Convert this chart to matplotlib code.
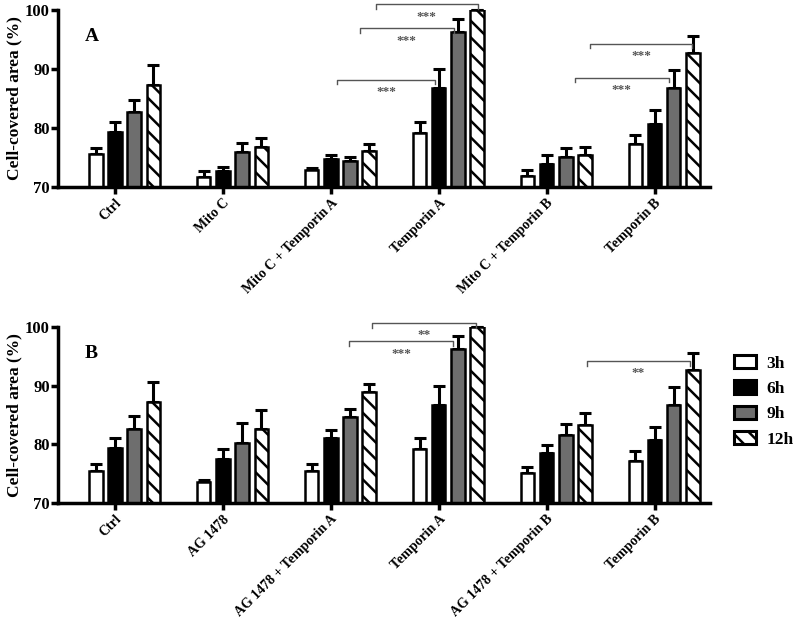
import numpy as np
import matplotlib
matplotlib.use("Agg")
import matplotlib.pyplot as plt
from matplotlib.patches import Patch

plt.rcParams['font.family'] = ['Liberation Serif', 'DejaVu Serif']
plt.rcParams['font.weight'] = 'bold'
plt.rcParams['hatch.linewidth'] = 1.8

times = ['3h', '6h', '9h', '12h']

groups_a = ['Ctrl', 'Mito C', 'Mito C + Temporin A', 'Temporin A',
            'Mito C + Temporin B', 'Temporin B']
means_a = [
    [75.5, 79.3, 82.6, 87.3],
    [71.7, 72.6, 75.9, 76.7],
    [72.9, 74.7, 74.4, 76.1],
    [79.1, 86.7, 96.2, 100.0],
    [71.8, 73.8, 75.0, 75.4],
    [77.3, 80.7, 86.7, 92.7],
]
sem_a = [
    [1.1, 1.7, 2.2, 3.4],
    [0.9, 0.8, 1.6, 1.6],
    [0.2, 0.7, 0.6, 1.2],
    [1.9, 3.3, 2.3, 0.0],
    [1.1, 1.5, 1.6, 1.3],
    [1.4, 2.3, 3.1, 2.9],
]
# (x start, x end, y, label)
brackets_a = [
    (2.06, 2.97, 88.2, '***'),
    (2.27, 3.14, 96.9, '***'),
    (2.42, 3.36, 101.0, '***'),
    (4.26, 5.13, 88.5, '***'),
    (4.40, 5.35, 94.3, '***'),
]

groups_b = ['Ctrl', 'AG 1478', 'AG 1478 + Temporin A', 'Temporin A',
            'AG 1478 + Temporin B', 'Temporin B']
means_b = [
    [75.5, 79.3, 82.6, 87.3],
    [73.6, 77.5, 80.2, 82.6],
    [75.5, 81.1, 84.6, 89.0],
    [79.2, 86.7, 96.2, 100.0],
    [75.1, 78.5, 81.6, 83.3],
    [77.2, 80.8, 86.7, 92.7],
]
sem_b = [
    [1.1, 1.7, 2.2, 3.4],
    [0.3, 1.7, 3.4, 3.3],
    [1.1, 1.3, 1.4, 1.3],
    [1.9, 3.3, 2.2, 0.0],
    [1.1, 1.4, 1.9, 2.1],
    [1.6, 2.1, 3.1, 2.9],
]
brackets_b = [
    (2.17, 3.13, 97.6, '***'),
    (2.38, 3.35, 100.7, '**'),
    (4.37, 5.33, 94.2, '**'),
]

face = ['white', 'black', '#6e6e6e', 'white']
hatches = [None, None, None, '\\\\']
offsets = [-0.178, 0.0, 0.178, 0.356]
width = 0.125


def draw_panel(ax, groups, means, sems, brackets, letter):
    means = np.array(means)
    sems = np.array(sems)
    x = np.arange(len(groups))
    for j in range(4):
        xs = x + offsets[j]
        ax.errorbar(xs, means[:, j], yerr=[np.zeros(len(x)), sems[:, j]],
                    fmt='none', ecolor='black', elinewidth=2.2,
                    capsize=4, capthick=2.2, zorder=1, clip_on=False)
        ax.bar(xs, means[:, j] - 70, width, bottom=70, color=face[j],
               edgecolor='black', linewidth=1.8, hatch=hatches[j], zorder=2)

    for x0, x1, y, lab in brackets:
        ax.plot([x0, x0, x1, x1], [y - 0.8, y, y, y - 0.8], color='#555555',
                lw=1.0, clip_on=False, zorder=3)
        ax.text((x0 + x1) / 2, y - 1.1, lab, ha='center', va='top',
                fontsize=9.5, color='#555555', clip_on=False)

    ax.text(-0.28, 95.5, letter, fontsize=14, fontweight='bold',
            ha='left', va='center')

    ax.set_xlim(-0.528, 5.514)
    ax.set_ylim(70, 100)
    ax.set_yticks([70, 80, 90, 100])
    ax.set_xticks(x)
    ax.set_xticklabels(groups, rotation=45, ha='right',
                       rotation_mode='anchor', fontsize=10, fontweight='bold')
    ax.set_ylabel('Cell-covered area (%)', fontsize=12.5, fontweight='bold',
                  labelpad=2)
    for lab in ax.get_yticklabels():
        lab.set_fontweight('bold')
        lab.set_fontsize(12)
    for s in ['top', 'right']:
        ax.spines[s].set_visible(False)
    for s in ['left', 'bottom']:
        ax.spines[s].set_linewidth(2.5)
    ax.tick_params(axis='both', width=2.5, length=5, direction='out', pad=2)
    ax.tick_params(axis='y', pad=1)


fig = plt.figure(figsize=(8, 6.26), dpi=100)
ax1 = fig.add_axes([0.0725, 0.7018, 0.815, 0.2822])
ax2 = fig.add_axes([0.0725, 0.1965, 0.815, 0.2811])

draw_panel(ax1, groups_a, means_a, sem_a, brackets_a, 'A')
draw_panel(ax2, groups_b, means_b, sem_b, brackets_b, 'B')

handles = [Patch(facecolor=face[j], edgecolor='black', linewidth=2.2,
                 hatch=hatches[j], label=times[j]) for j in range(4)]
fig.legend(handles=handles, loc='upper left', bbox_to_anchor=(0.918, 0.433),
           frameon=False, handlelength=1.25, handleheight=0.8,
           labelspacing=0.5, handletextpad=0.6, borderpad=0,
           borderaxespad=0,
           prop={'family': 'Liberation Serif', 'weight': 'bold', 'size': 12.5})

fig.savefig('out.png', dpi=100)
